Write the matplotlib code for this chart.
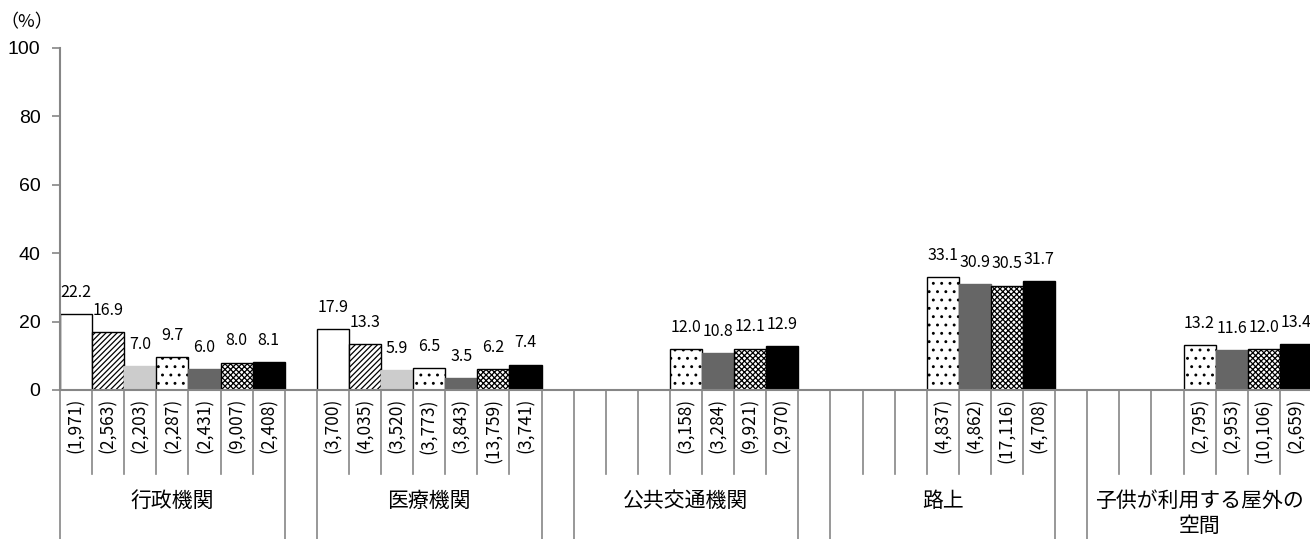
import matplotlib

matplotlib.use("Agg")
import matplotlib.pyplot as plt
import numpy as np
from matplotlib.transforms import blended_transform_factory

plt.rcParams["font.family"] = ["Noto Sans CJK JP", "DejaVu Sans"]
plt.rcParams["hatch.linewidth"] = 0.9

# data: 5 groups x 7 series (None = not surveyed)
groups = ["行政機関", "医療機関", "公共交通機関", "路上", "子供が利用する屋外の\n空間"]
values = [
    [22.2, 16.9, 7.0, 9.7, 6.0, 8.0, 8.1],
    [17.9, 13.3, 5.9, 6.5, 3.5, 6.2, 7.4],
    [None, None, None, 12.0, 10.8, 12.1, 12.9],
    [None, None, None, 33.1, 30.9, 30.5, 31.7],
    [None, None, None, 13.2, 11.6, 12.0, 13.4],
]
counts = [
    ["1,971", "2,563", "2,203", "2,287", "2,431", "9,007", "2,408"],
    ["3,700", "4,035", "3,520", "3,773", "3,843", "13,759", "3,741"],
    [None, None, None, "3,158", "3,284", "9,921", "2,970"],
    [None, None, None, "4,837", "4,862", "17,116", "4,708"],
    [None, None, None, "2,795", "2,953", "10,106", "2,659"],
]
yticks = [0, 20, 40, 60, 80, 100]

# series styles: (face, edge, hatch)
styles = [
    ("white", "black", None),
    ("white", "black", "//////"),
    ("#cccccc", "#cccccc", None),
    ("white", "black", ".."),
    ("#666666", "#666666", None),
    ("white", "black", "xxxxxx"),
    ("black", "black", None),
]

W, H = 1310, 539
slot_px = 32.1
n_per = 7
n_slots = len(groups) * (n_per + 1) - 1

fig = plt.figure(figsize=(W / 100, H / 100), dpi=100)
ax = fig.add_axes([60 / W, (H - 390) / H, n_slots * slot_px / W, (390 - 47.7) / H])
axis_col = "#868686"

for g in range(len(groups)):
    for s in range(n_per):
        v = values[g][s]
        if v is None:
            continue
        x = g * (n_per + 1) + s + 0.5
        face, edge, hatch = styles[s]
        ax.bar(x, v, width=1.0, color=face, edgecolor=edge, hatch=hatch, linewidth=1.0, zorder=2)
        ax.annotate(f"{v:.1f}", (x, v), xytext=(0, 9.5), textcoords="offset points",
                    ha="center", va="bottom", fontsize=11.5, zorder=3)

ax.set_xlim(0, n_slots)
ax.set_ylim(0, 100)
ax.set_yticks(yticks)
ax.set_yticklabels([str(t) for t in yticks], fontsize=14, family="Liberation Sans")
ax.tick_params(axis="y", length=6, color=axis_col, width=1.2, pad=8)
ax.set_xticks([])
for side in ["top", "right"]:
    ax.spines[side].set_visible(False)
ax.spines["left"].set_color(axis_col)
ax.spines["left"].set_linewidth(1.5)
ax.spines["bottom"].set_color(axis_col)
ax.spines["bottom"].set_linewidth(1.5)

# category axis below the zero line
tr = blended_transform_factory(ax.transData, fig.transFigure)
y0 = (H - 390) / H
y_short = (H - 474) / H
long_k = set()
for g in range(len(groups)):
    start = g * (n_per + 1)
    long_k.update([start, start + n_per])
for k in range(n_slots + 1):
    y_end = 0 if k in long_k else y_short
    ax.plot([k, k], [y0, y_end], color=axis_col, lw=1.2, transform=tr, clip_on=False)

for g, name in enumerate(groups):
    start = g * (n_per + 1)
    for s in range(n_per):
        c = counts[g][s]
        if c is None:
            continue
        ax.text(start + s + 0.5, (H - 398) / H, f"({c})", rotation=90, ha="center", va="top",
                fontsize=12.5, transform=tr)
    ax.text(start + n_per / 2, (H - 490) / H, name, ha="center", va="top", fontsize=15,
            linespacing=1.2, transform=tr)

fig.text(27 / W, (H - 22) / H, "（%）", ha="center", va="center", fontsize=13)

fig.savefig("out.png", dpi=100)
